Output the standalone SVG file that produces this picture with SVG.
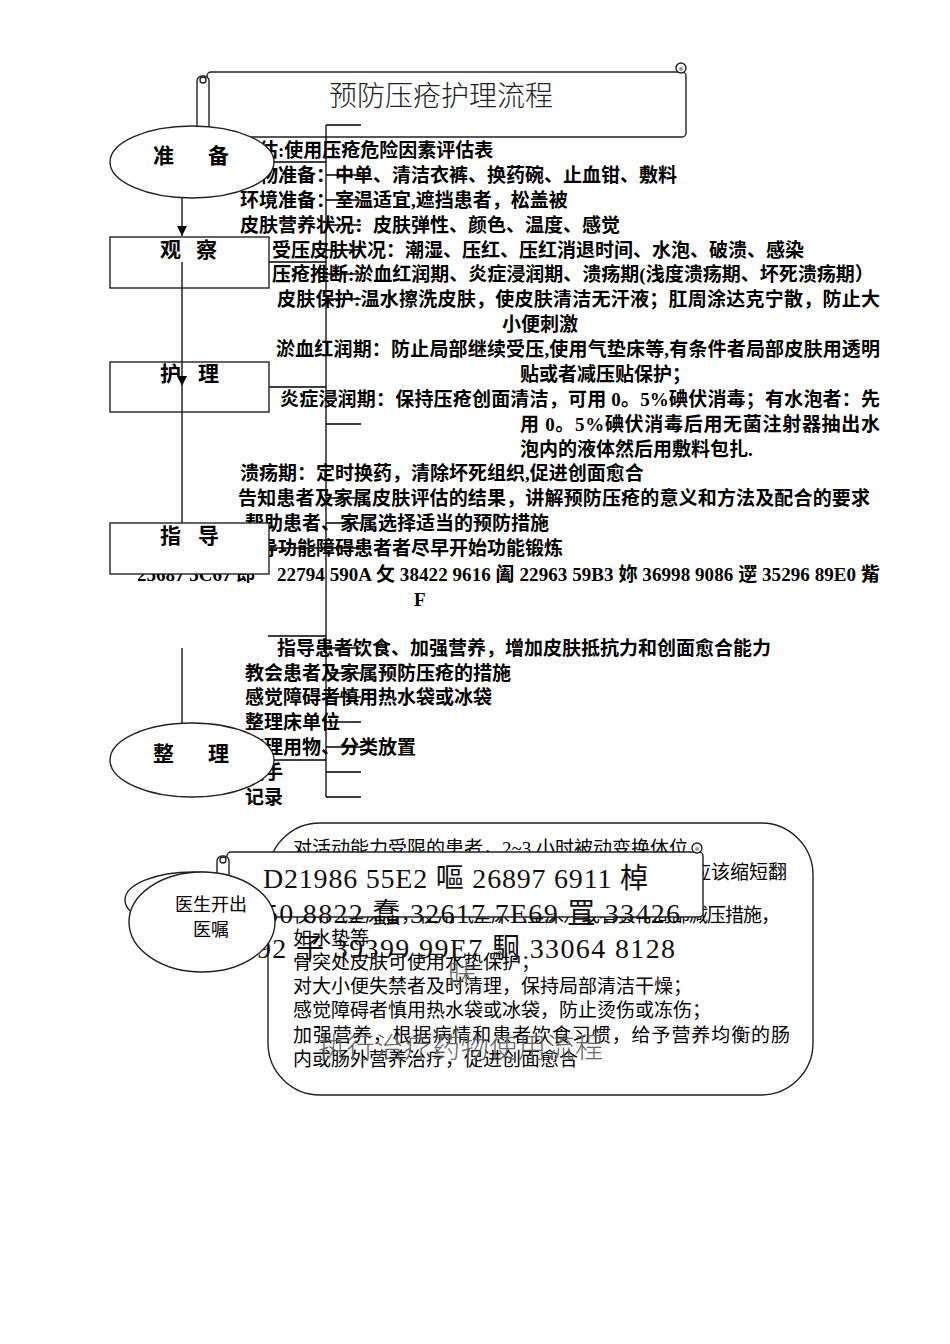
<svg xmlns="http://www.w3.org/2000/svg" width="950" height="1344" viewBox="0 0 950 1344">
<defs>
<marker id="arr" viewBox="0 0 10 10" refX="10" refY="5" markerWidth="10" markerHeight="10" markerUnits="userSpaceOnUse" orient="auto">
<path d="M0,0 L10,5 L0,10 Z" fill="#000"/>
</marker>
</defs>
<style>
.ln{stroke:#000;stroke-width:1.3;fill:none}
.shape{stroke:#222;stroke-width:1.4;fill:#fff}
.t{font-family:'Liberation Serif','Noto Sans CJK SC',serif;font-size:19px;font-weight:bold;fill:#000}
.b{font-family:'Liberation Serif','Noto Sans CJK SC',serif;font-size:19px;fill:#000}
.lab{font-family:'Noto Sans CJK SC',sans-serif;font-size:21px;font-weight:bold;fill:#000}
.big{font-family:'Liberation Serif','Noto Sans CJK SC',serif;font-size:28px;fill:#111}
.gray{font-family:'Noto Sans CJK SC',sans-serif;font-size:28px;fill:#666;font-weight:300}
</style>
<rect width="950" height="1344" fill="#fff"/>

<g id="title-scroll">
<rect class="shape" x="207" y="72" width="479" height="65" rx="4"/>
<circle class="shape" cx="681" cy="68" r="5"/>
<circle cx="681" cy="69" r="2" fill="#999"/>
<rect class="shape" x="197" y="76" width="12" height="64" rx="5"/>
<circle class="shape" cx="203" cy="80" r="3"/>
<text x="441" y="106" text-anchor="middle" style="font-family:'Noto Sans CJK SC',sans-serif;font-size:28px;fill:#222;font-weight:300">预防压疮护理流程</text>
</g>

<g id="texts-upper">
<text class="t" x="240" y="157">评估:使用压疮危险因素评估表</text>
<text class="t" x="240" y="182">用物准备：中单、清洁衣裤、换药碗、止血钳、敷料</text>
<text class="t" x="240" y="207">环境准备：室温适宜,遮挡患者，松盖被</text>
<text class="t" x="240" y="232">皮肤营养状况：皮肤弹性、颜色、温度、感觉</text>
<text class="t" x="272" y="257">受压皮肤状况：潮湿、压红、压红消退时间、水泡、破溃、感染</text>
<text class="t" x="272" y="281">压疮推断:淤血红润期、炎症浸润期、溃疡期(浅度溃疡期、坏死溃疡期）</text>
<text class="t" x="277" y="306" textLength="603">皮肤保护:温水擦洗皮肤，使皮肤清洁无汗液；肛周涂达克宁散，防止大</text>
<text class="t" x="502" y="331">小便刺激</text>
<text class="t" x="276" y="356" textLength="604">淤血红润期：防止局部继续受压,使用气垫床等,有条件者局部皮肤用透明</text>
<text class="t" x="520" y="381">贴或者减压贴保护；</text>
<text class="t" x="280" y="406" textLength="600">炎症浸润期：保持压疮创面清洁，可用 0。5%碘伏消毒；有水泡者：先</text>
<text class="t" x="520" y="431" textLength="360">用 0。5%碘伏消毒后用无菌注射器抽出水</text>
<text class="t" x="520" y="456">泡内的液体然后用敷料包扎.</text>
<text class="t" x="240" y="480">溃疡期：定时换药，清除坏死组织,促进创面愈合</text>
<text class="t" x="238" y="505" textLength="632">告知患者及家属皮肤评估的结果，讲解预防压疮的意义和方法及配合的要求</text>
<text class="t" x="245" y="530">帮助患者、家属选择适当的预防措施</text>
<text class="t" x="240" y="555">指导功能障碍患者者尽早开始功能锻炼</text>
<text class="t" x="137" y="581">25687 5C67 郎 <tspan x="277" textLength="603">22794 590A 攵 38422 9616 阖 22963 59B3 妳 36998 9086 遻 35296 89E0 觜</tspan></text>
<text class="t" x="414" y="606">F</text>
<text class="t" x="277" y="655">指导患者饮食、加强营养，增加皮肤抵抗力和创面愈合能力</text>
<text class="t" x="245" y="680">教会患者及家属预防压疮的措施</text>
<text class="t" x="245" y="704">感觉障碍者慎用热水袋或冰袋</text>
<text class="t" x="245" y="729">整理床单位</text>
<text class="t" x="245" y="754">整理用物、分类放置</text>
<text class="t" x="245" y="779">洗手</text>
<text class="t" x="245" y="804">记录</text>
</g>

<g id="connectors">
<line class="ln" x1="182" y1="198" x2="182" y2="236" marker-end="url(#arr)"/>
<line class="ln" x1="182" y1="262" x2="182" y2="386" marker-end="url(#arr)"/>
<line class="ln" x1="182" y1="386" x2="182" y2="574" marker-end="url(#arr)"/>
<line class="ln" x1="182" y1="648" x2="182" y2="723"/>
<line class="ln" x1="326" y1="125" x2="326" y2="797"/>
<path class="ln" d="M326,125H361 M274,162H326 M326,175H361 M326,200H361 M326,225H361 M326,250H361 M269,262H326 M326,274H361 M326,299H361 M269,387H326 M326,424H361 M326,498H361 M326,523H361 M269,548H361 M268,636H326 M326,648H361 M326,673H361 M326,697H361 M326,722H361 M326,747H361 M274,760H326 M326,772H361 M326,797H361"/>
</g>

<g id="node-zhunbei">
<ellipse class="shape" cx="192" cy="162" rx="82" ry="36"/>
<text class="lab" x="153" y="163">准 <tspan x="208">备</tspan></text>
</g>
<g id="node-guancha">
<rect x="110" y="237" width="159" height="51" fill="none" stroke="#222" stroke-width="1.4"/>
<text class="lab" x="160" y="257">观 <tspan x="196">察</tspan></text>
</g>
<g id="node-huli">
<rect x="110" y="362" width="159" height="50" fill="none" stroke="#222" stroke-width="1.4"/>
<text class="lab" x="160" y="381">护 <tspan x="198">理</tspan></text>
</g>
<g id="node-zhidao">
<rect x="110" y="523" width="159" height="51" fill="#fff" stroke="#222" stroke-width="1.4"/>
<text class="lab" x="160" y="543">指 <tspan x="198">导</tspan></text>
</g>
<g id="node-zhengli">
<ellipse class="shape" cx="192" cy="760" rx="82" ry="37"/>
<text class="lab" x="153" y="761">整 <tspan x="208">理</tspan></text>
</g>

<g id="node-measures">
<rect class="shape" x="268" y="823" width="545" height="272" rx="52" ry="52"/>
<text class="b" x="293" y="855">对活动能力受限的患者，2~3 小时被动变换体位</text>
<text class="b" x="692" y="879">应该缩短翻</text>
<text class="b" x="293" y="922" textLength="487">仅用气垫床者，使用气垫床（垫床）或者实行局部减压措施，</text>
<text class="b" x="293" y="945">如水垫等</text>
<text class="b" x="293" y="969">骨突处皮肤可使用水垫保护；</text>
<text class="b" x="293" y="993">对大小便失禁者及时清理，保持局部清洁干燥；</text>
<text class="b" x="293" y="1017">感觉障碍者慎用热水袋或冰袋，防止烫伤或冻伤；</text>
<text class="b" x="293" y="1042" textLength="497">加强营养，根据病情和患者饮食习惯，给予营养均衡的肠</text>
<text class="b" x="293" y="1066">内或肠外营养治疗，促进创面愈合</text>
</g>

<g id="node-scroll2">
<rect class="shape" x="227" y="852" width="476" height="65" rx="4"/>
<circle class="shape" cx="697" cy="848" r="5"/>
<circle cx="697" cy="849" r="2" fill="#999"/>
<rect class="shape" x="217" y="856" width="12" height="64" rx="5"/>
<circle class="shape" cx="223" cy="860" r="3"/>
<text class="big" x="263" y="888" textLength="385">D21986 55E2 嘔 26897 6911  棹</text>
<text class="big" x="264" y="923" textLength="416">50 8822 蠢 32617 7E69 罝 33426</text>
<text class="big" x="257" y="958" textLength="418">92 子 39399 99E7 駉 33064 8128</text>
<text class="gray" x="448" y="985">昧</text>
<text class="gray" x="318" y="1058" textLength="285">执行治疗药物使用流程</text>
</g>

<g id="node-doctor">
<ellipse class="shape" cx="193" cy="900" rx="68" ry="28"/>
<ellipse class="shape" cx="202" cy="922" rx="73" ry="50"/>
<text x="211" y="911" text-anchor="middle" style="font-family:'Noto Sans CJK SC',sans-serif;font-size:18px;fill:#000">医生开出</text>
<text x="211" y="936" text-anchor="middle" style="font-family:'Noto Sans CJK SC',sans-serif;font-size:18px;fill:#000">医嘱</text>
</g>
</svg>
